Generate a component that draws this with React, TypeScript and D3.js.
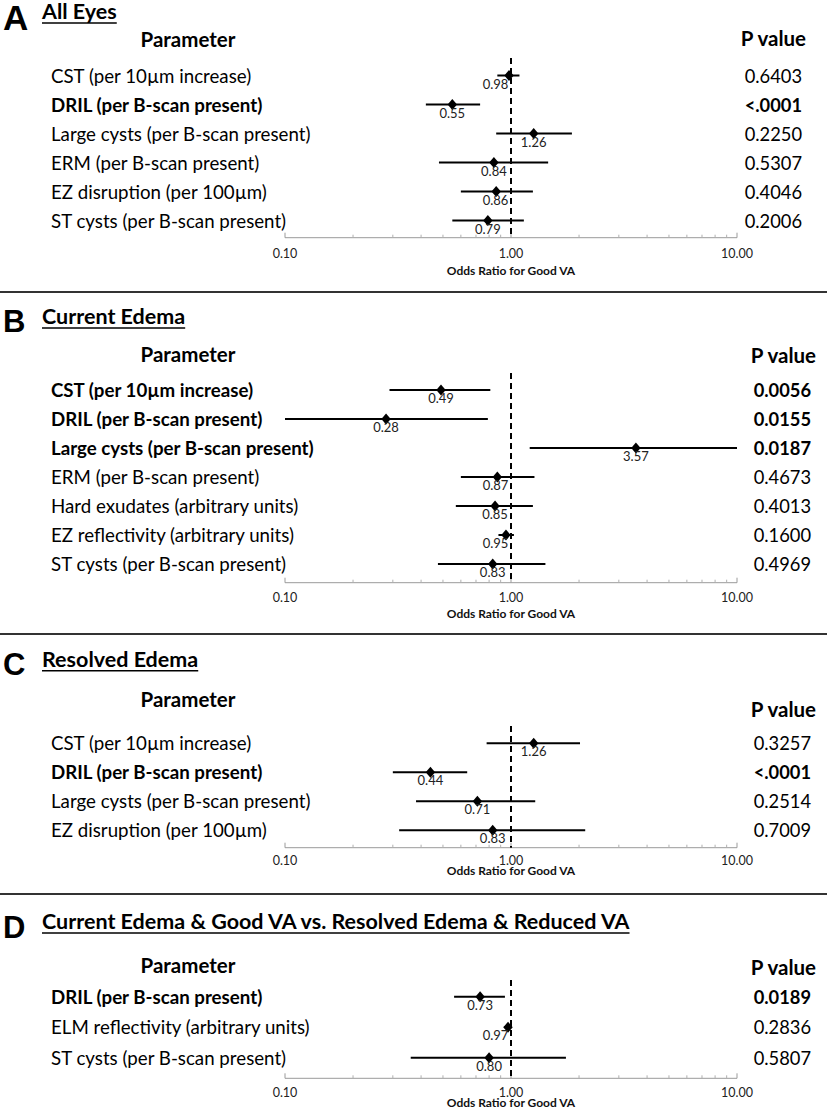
import React from "react";
import * as d3 from "d3";

const W = 827;
const H = 1110;

// ---------- Panel A: All Eyes ----------
const aLabels = [
  "CST (per 10µm increase)",
  "DRIL (per B-scan present)",
  "Large cysts (per B-scan present)",
  "ERM (per B-scan present)",
  "EZ disruption (per 100µm)",
  "ST cysts (per B-scan present)",
];
const aOR = [0.98, 0.55, 1.26, 0.84, 0.86, 0.79];
const aLow = [0.87, 0.42, 0.86, 0.48, 0.6, 0.55];
const aHigh = [1.09, 0.73, 1.86, 1.46, 1.25, 1.14];
const aP = ["0.6403", "<.0001", "0.2250", "0.5307", "0.4046", "0.2006"];
const aBold = [false, true, false, false, false, false];

// ---------- Panel B: Current Edema ----------
const bLabels = [
  "CST (per 10µm increase)",
  "DRIL (per B-scan present)",
  "Large cysts (per B-scan present)",
  "ERM (per B-scan present)",
  "Hard exudates (arbitrary units)",
  "EZ reflectivity (arbitrary units)",
  "ST cysts (per B-scan present)",
];
const bOR = [0.49, 0.28, 3.57, 0.87, 0.85, 0.95, 0.83];
const bLow = [0.29, 0.1, 1.21, 0.6, 0.57, 0.88, 0.475];
const bHigh = [0.81, 0.79, 10.0, 1.27, 1.25, 1.03, 1.42];
const bP = ["0.0056", "0.0155", "0.0187", "0.4673", "0.4013", "0.1600", "0.4969"];
const bBold = [true, true, true, false, false, false, false];

// ---------- Panel C: Resolved Edema ----------
const cLabels = [
  "CST (per 10µm increase)",
  "DRIL (per B-scan present)",
  "Large cysts (per B-scan present)",
  "EZ disruption (per 100µm)",
];
const cOR = [1.26, 0.44, 0.71, 0.83];
const cLow = [0.78, 0.3, 0.38, 0.32];
const cHigh = [2.02, 0.64, 1.28, 2.13];
const cP = ["0.3257", "<.0001", "0.2514", "0.7009"];
const cBold = [false, true, false, false];

// ---------- Panel D ----------
const dLabels = [
  "DRIL (per B-scan present)",
  "ELM reflectivity (arbitrary units)",
  "ST cysts (per B-scan present)",
];
const dOR = [0.73, 0.97, 0.8];
const dLow = [0.56, 0.93, 0.36];
const dHigh = [0.94, 1.01, 1.75];
const dP = ["0.0189", "0.2836", "0.5807"];
const dBold = [true, false, false];

const majorTicks = [0.1, 1, 10];
const majorTickLabels = ["0.10", "1.00", "10.00"];
const axisTitle = "Odds Ratio for Good VA";
const paramHeader = "Parameter";
const pHeader = "P value";

const FONT = "Lato, 'Open Sans', sans-serif";

const x = d3.scaleLog().domain([0.1, 10]).range([285, 737]);
const minorTicks = x.ticks().filter((t) => !majorTicks.some((m) => Math.abs(m - t) < 1e-9));

type PanelProps = {
  letter: string;
  letterSize: number;
  letterY: number;
  title: string;
  labels: string[];
  or: number[];
  low: number[];
  high: number[];
  p: string[];
  bold: boolean[];
  titleY: number;
  headerY: number;
  pHeaderY: number;
  pHeaderRight: number;
  pRight: number;
  rowY0: number;
  rowStep: number;
  axisY: number;
  tickLabelY: number;
  axisTitleY: number;
  dashTop: number;
};

const VAL_FS = 13;
const VAL_HALF_W = 11.5;

function Panel(props: PanelProps) {
  const {
    letter, letterSize, letterY, title, labels, or, low, high, p, bold,
    titleY, headerY, pHeaderY, pHeaderRight, pRight, rowY0, rowStep,
    axisY, tickLabelY, axisTitleY, dashTop,
  } = props;
  const y = (i: number) => rowY0 + i * rowStep;
  const titleRef = React.useRef<SVGTextElement>(null);
  const [tw, setTw] = React.useState(0);
  React.useEffect(() => {
    if (titleRef.current) setTw(titleRef.current.getComputedTextLength());
  }, [title]);
  const diamond = (cx: number, cy: number) =>
    `M${cx},${cy - 5.5}L${cx + 4.7},${cy}L${cx},${cy + 5.5}L${cx - 4.7},${cy}Z`;
  // keep value labels clear of the dashed reference line
  const labelX = (v: number) => {
    const cx = x(v);
    const ref = x(1);
    if (v < 1 && cx + VAL_HALF_W > ref - 4) return ref - 4 - VAL_HALF_W;
    if (v > 1 && cx - VAL_HALF_W < ref + 4) return ref + 4 + VAL_HALF_W;
    return cx;
  };
  return (
    <g>
      <text x={3} y={letterY} fontFamily="'Liberation Sans', Arial, sans-serif" fontWeight="bold" fontSize={letterSize} fill="#000">
        {letter}
      </text>
      <text ref={titleRef} x={42} y={titleY} fontFamily={FONT} fontWeight="bold" fontSize={21.5} fill="#000">
        {title}
      </text>
      {tw > 0 && <line x1={42} x2={42 + tw} y1={titleY + 4} y2={titleY + 4} stroke="#000" strokeWidth={1.4} />}
      <text x={188} y={headerY} textAnchor="middle" fontFamily={FONT} fontWeight="bold" fontSize={20.5} fill="#000">
        {paramHeader}
      </text>
      <text x={pHeaderRight} y={pHeaderY} textAnchor="end" fontFamily={FONT} fontWeight="bold" fontSize={20.5} fill="#000">
        {pHeader}
      </text>
      {labels.map((l, i) => (
        <text key={"l" + i} x={51} y={y(i) + 7} fontFamily={FONT} fontWeight={bold[i] ? "bold" : "normal"} fontSize={18.7} fill="#000">
          {l}
        </text>
      ))}
      {p.map((v, i) => (
        <text key={"p" + i} x={pRight} y={y(i) + 7} textAnchor="end" fontFamily={FONT} fontWeight={bold[i] ? "bold" : "normal"} fontSize={18.3} fill="#000">
          {v}
        </text>
      ))}
      {/* axis */}
      <line x1={x(0.1)} x2={x(10)} y1={axisY} y2={axisY} stroke="#9a9a9a" strokeWidth={1} />
      {minorTicks.map((t, i) => (
        <line key={"mt" + i} x1={x(t)} x2={x(t)} y1={axisY} y2={axisY - 3} stroke="#b0b0b0" strokeWidth={1} />
      ))}
      {majorTicks.map((t, i) => (
        <g key={"Mt" + i}>
          <line x1={x(t)} x2={x(t)} y1={axisY} y2={axisY - 5} stroke="#9a9a9a" strokeWidth={1} />
          <text x={x(t)} y={tickLabelY} textAnchor="middle" fontFamily={FONT} fontSize={12.5} fill="#222">
            {majorTickLabels[i]}
          </text>
        </g>
      ))}
      <text x={x(1)} y={axisTitleY} textAnchor="middle" fontFamily={FONT} fontWeight="bold" fontSize={12} fill="#111">
        {axisTitle}
      </text>
      {/* reference line */}
      <line x1={x(1)} x2={x(1)} y1={dashTop} y2={axisY} stroke="#000" strokeWidth={2} strokeDasharray="6,4" />
      {or.map((v, i) => (
        <g key={"r" + i}>
          <line x1={x(low[i])} x2={x(high[i])} y1={y(i)} y2={y(i)} stroke="#000" strokeWidth={2} />
          <path d={diamond(x(v), y(i))} fill="#000" />
          <text x={labelX(v)} y={y(i) + 13} textAnchor="middle" fontFamily={FONT} fontSize={VAL_FS} fill="#222">
            {v.toFixed(2)}
          </text>
        </g>
      ))}
    </g>
  );
}

export default function App() {
  return (
    <svg width={W} height={H} style={{ display: "block", position: "absolute", left: 0, top: 0, background: "#fff" }}>
      <rect width={W} height={H} fill="#fff" />
      <Panel
        letter="A" letterSize={35} letterY={30} title="All Eyes"
        labels={aLabels} or={aOR} low={aLow} high={aHigh} p={aP} bold={aBold}
        titleY={19} headerY={46.5} pHeaderY={45.5} pHeaderRight={806} pRight={802}
        rowY0={75.5} rowStep={29} axisY={237.7} tickLabelY={258} axisTitleY={274.5} dashTop={58}
      />
      <line x1={0} x2={W} y1={292} y2={292} stroke="#333" strokeWidth={2} />
      <Panel
        letter="B" letterSize={31} letterY={332} title="Current Edema"
        labels={bLabels} or={bOR} low={bLow} high={bHigh} p={bP} bold={bBold}
        titleY={324} headerY={361.5} pHeaderY={362.7} pHeaderRight={816} pRight={811}
        rowY0={390} rowStep={29} axisY={582.7} tickLabelY={601.5} axisTitleY={618} dashTop={373}
      />
      <line x1={0} x2={W} y1={634} y2={634} stroke="#333" strokeWidth={2} />
      <Panel
        letter="C" letterSize={31} letterY={675} title="Resolved Edema"
        labels={cLabels} or={cOR} low={cLow} high={cHigh} p={cP} bold={cBold}
        titleY={666.7} headerY={707} pHeaderY={716.5} pHeaderRight={816} pRight={811}
        rowY0={743.3} rowStep={29} axisY={847.7} tickLabelY={865} axisTitleY={875} dashTop={726}
      />
      <line x1={0} x2={W} y1={894} y2={894} stroke="#333" strokeWidth={2} />
      <Panel
        letter="D" letterSize={31} letterY={938} title="Current Edema & Good VA vs. Resolved Edema & Reduced VA"
        labels={dLabels} or={dOR} low={dLow} high={dHigh} p={dP} bold={dBold}
        titleY={929} headerY={972.5} pHeaderY={975} pHeaderRight={816} pRight={811}
        rowY0={996.7} rowStep={30.5} axisY={1078.3} tickLabelY={1096.5} axisTitleY={1107} dashTop={980}
      />
    </svg>
  );
}
